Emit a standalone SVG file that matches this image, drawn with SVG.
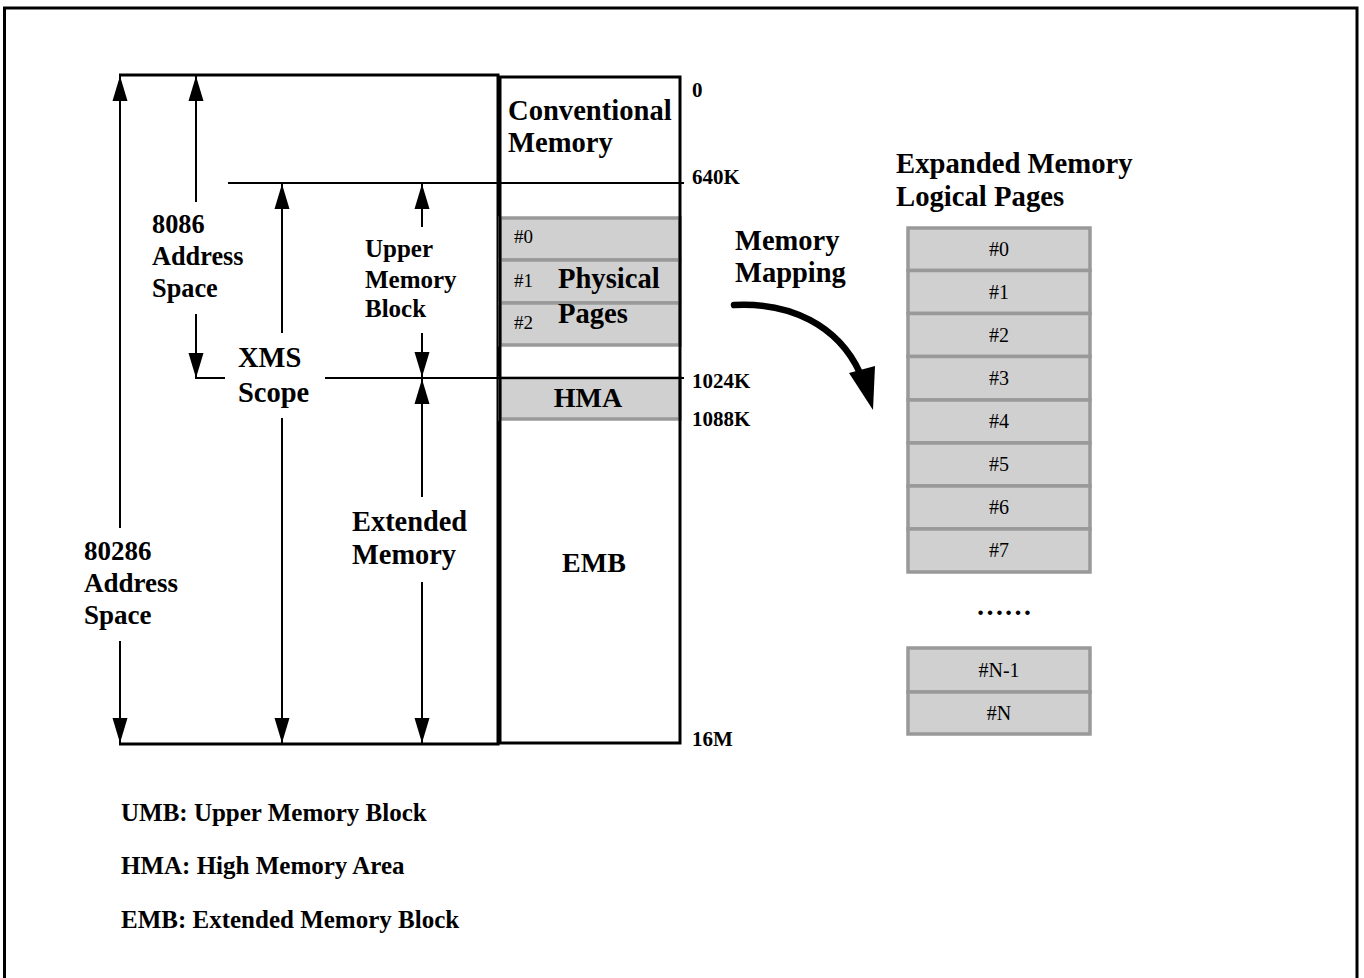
<svg xmlns="http://www.w3.org/2000/svg" width="1364" height="978" viewBox="0 0 1364 978">
<style>
.b{font-family:"Liberation Serif","Times New Roman",serif;font-weight:bold;fill:#000}
.r{font-family:"Liberation Serif","Times New Roman",serif;fill:#000}
.dim{stroke:#000;stroke-width:2;fill:none}
.pg{fill:#d0d0d0;stroke:#999;stroke-width:3.5}
</style>
<defs>
<marker id="ah" markerUnits="userSpaceOnUse" markerWidth="26" markerHeight="16" viewBox="0 0 26 16" refX="25" refY="8" orient="auto">
<path d="M0,0.5 L25,8 L0,15.5 z" fill="#000"/>
</marker>
</defs>
<rect x="4.5" y="8" width="1352.5" height="1000" fill="none" stroke="#000" stroke-width="3"/>

<g id="address-space-frame">
<path d="M119,75 H498 V744 H119" fill="none" stroke="#000" stroke-width="3"/>
</g>

<g id="memory-column">
<rect class="pg" x="500" y="218" width="180" height="42"/>
<rect class="pg" x="500" y="260" width="180" height="43"/>
<rect class="pg" x="500" y="303" width="180" height="42"/>
<rect class="pg" x="500" y="378" width="180" height="41"/>
<rect x="500" y="77" width="180" height="666" fill="none" stroke="#000" stroke-width="3"/>
<text class="b" x="508" y="120" font-size="28.6">Conventional</text>
<text class="b" x="508" y="152" font-size="28.6">Memory</text>
<text class="r" x="514" y="243" font-size="19">#0</text>
<text class="r" x="514" y="287" font-size="19">#1</text>
<text class="r" x="514" y="329" font-size="19">#2</text>
<text class="b" x="558" y="288" font-size="28.6">Physical</text>
<text class="b" x="558" y="323" font-size="28.6">Pages</text>
<text class="b" x="588" y="407" font-size="28" text-anchor="middle">HMA</text>
<text class="b" x="594" y="572" font-size="28" text-anchor="middle">EMB</text>
</g>

<g id="address-labels">
<text class="b" x="692" y="97" font-size="21">0</text>
<text class="b" x="692" y="184" font-size="21">640K</text>
<text class="b" x="692" y="388" font-size="21">1024K</text>
<text class="b" x="692" y="426" font-size="21">1088K</text>
<text class="b" x="692" y="746" font-size="21">16M</text>
</g>

<g id="connectors">
<line class="dim" x1="228" y1="183" x2="684" y2="183"/>
<line class="dim" x1="195" y1="378" x2="225" y2="378"/>
<line class="dim" x1="325" y1="378" x2="684" y2="378"/>
<line class="dim" x1="120" y1="528" x2="120" y2="76" marker-end="url(#ah)"/>
<line class="dim" x1="120" y1="641" x2="120" y2="743" marker-end="url(#ah)"/>
<line class="dim" x1="196" y1="202" x2="196" y2="76" marker-end="url(#ah)"/>
<line class="dim" x1="196" y1="314" x2="196" y2="378" marker-end="url(#ah)"/>
<line class="dim" x1="282" y1="333" x2="282" y2="184" marker-end="url(#ah)"/>
<line class="dim" x1="282" y1="418" x2="282" y2="743" marker-end="url(#ah)"/>
<line class="dim" x1="422" y1="227" x2="422" y2="184" marker-end="url(#ah)"/>
<line class="dim" x1="422" y1="333" x2="422" y2="377" marker-end="url(#ah)"/>
<line class="dim" x1="422" y1="497" x2="422" y2="379" marker-end="url(#ah)"/>
<line class="dim" x1="422" y1="582" x2="422" y2="743" marker-end="url(#ah)"/>
<path d="M734,305 C790,302 838,325 860,373" fill="none" stroke="#000" stroke-width="6.5" stroke-linecap="round"/>
<polygon points="849,373 875,366 873,410" fill="#000"/>
</g>

<g id="label-8086">
<text class="b" x="152" y="233" font-size="26.3">8086</text>
<text class="b" x="152" y="265" font-size="26.3">Address</text>
<text class="b" x="152" y="297" font-size="26.3">Space</text>
</g>
<g id="label-80286">
<text class="b" x="84" y="560" font-size="27">80286</text>
<text class="b" x="84" y="592" font-size="27">Address</text>
<text class="b" x="84" y="624" font-size="27">Space</text>
</g>
<g id="label-xms">
<text class="b" x="238" y="367" font-size="28.5">XMS</text>
<text class="b" x="238" y="402" font-size="28.5">Scope</text>
</g>
<g id="label-umb">
<text class="b" x="365" y="257" font-size="25">Upper</text>
<text class="b" x="365" y="288" font-size="25">Memory</text>
<text class="b" x="365" y="317" font-size="25">Block</text>
</g>
<g id="label-extended">
<text class="b" x="352" y="531" font-size="28.4">Extended</text>
<text class="b" x="352" y="564" font-size="28.4">Memory</text>
</g>
<g id="label-mapping">
<text class="b" x="735" y="250" font-size="28.5">Memory</text>
<text class="b" x="735" y="282" font-size="28.5">Mapping</text>
</g>

<g id="logical-pages">
<text class="b" x="896" y="173" font-size="28.7">Expanded Memory</text>
<text class="b" x="896" y="206" font-size="28.7">Logical Pages</text>
<rect class="pg" x="908" y="228" width="182" height="42.5"/>
<rect class="pg" x="908" y="270.5" width="182" height="43"/>
<rect class="pg" x="908" y="313.5" width="182" height="43"/>
<rect class="pg" x="908" y="356.5" width="182" height="43.5"/>
<rect class="pg" x="908" y="400" width="182" height="43"/>
<rect class="pg" x="908" y="443" width="182" height="43"/>
<rect class="pg" x="908" y="486" width="182" height="43"/>
<rect class="pg" x="908" y="529" width="182" height="43"/>
<rect class="pg" x="908" y="648" width="182" height="44"/>
<rect class="pg" x="908" y="692" width="182" height="42"/>
<g class="r" font-size="20" text-anchor="middle">
<text x="999" y="256">#0</text>
<text x="999" y="299">#1</text>
<text x="999" y="342">#2</text>
<text x="999" y="385">#3</text>
<text x="999" y="428">#4</text>
<text x="999" y="471">#5</text>
<text x="999" y="514">#6</text>
<text x="999" y="557">#7</text>
<text x="999" y="677">#N-1</text>
<text x="999" y="720">#N</text>
</g>
<text class="b" x="1004" y="615" font-size="28" text-anchor="middle">……</text>
</g>

<g id="legend">
<text class="b" x="121" y="821" font-size="25">UMB: Upper Memory Block</text>
<text class="b" x="121" y="874" font-size="25">HMA: High Memory Area</text>
<text class="b" x="121" y="928" font-size="25">EMB: Extended Memory Block</text>
</g>
</svg>
